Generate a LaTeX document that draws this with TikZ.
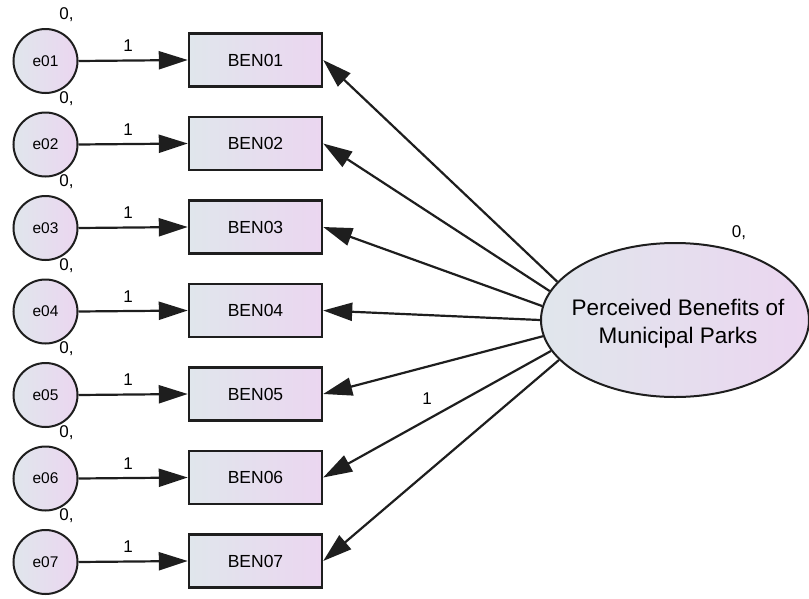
\documentclass[tikz,border=0pt]{standalone}
\usepackage{fontspec}
\setmainfont{Liberation Sans}
\usetikzlibrary{arrows.meta,shapes.geometric}

\definecolor{shadeL}{HTML}{E0E6EC}
\definecolor{shadeR}{HTML}{EBD6F0}
\definecolor{edge}{HTML}{1E1E1E}

\tikzset{
  obs/.style={draw=edge, line width=2.4pt, rectangle, minimum width=133pt,
    minimum height=53pt, inner sep=0pt, left color=shadeL, right color=shadeR,
    font=\fontsize{17.5}{20}\selectfont},
  err/.style={draw=edge, line width=2pt, circle, minimum size=64pt, inner sep=0pt,
    left color=shadeL, right color=shadeR, font=\fontsize{15.5}{17}\selectfont},
  latent/.style={draw=edge, line width=2pt, ellipse, minimum width=268pt,
    minimum height=154pt, inner sep=0pt, left color=shadeL, right color=shadeR},
  title/.style={inner sep=0pt, align=center, font=\fontsize{22.5}{28}\selectfont},
  lbl/.style={inner sep=0pt, font=\fontsize{17}{19}\selectfont},
  path/.style={draw=edge, line width=2.2pt,
    -{Triangle[length=29pt,width=18pt]}},
}

\begin{document}
\begin{tikzpicture}[x=1pt, y=-1pt]
  \useasboundingbox (0,0) rectangle (809,598);

  % latent factor
  \node[latent] (lat) at (675,320) {};
  \node[title] (latname) at (678,324) {Perceived Benefits of\\Municipal Parks};
  \node[lbl] (latv) at (739,233) {0,};

  % indicators, their error terms and the factor loadings
  \foreach \i/\y/\ang in {1/60/162.5, 2/143.5/167.6, 3/227/174.4, 4/310.5/180.4,
                          5/394/187.3, 6/477.5/194, 7/561/199.6} {
    \node[obs] (b\i) at (255.5,\y) {BEN0\i};
    \node[err] (e\i) at (45.5,\y+1) {e0\i};
    \node[lbl] (v\i) at (66.5,\y-45) {0,};
    \node[lbl] (w\i) at (128,\y-14) {1};
    \draw[path] (e\i.east) -- (b\i.west);
    \draw[path] (lat.\ang) -- (b\i.east);
  }

  % fixed loading
  \node[lbl] (fix) at (427,399) {1};
\end{tikzpicture}
\end{document}
